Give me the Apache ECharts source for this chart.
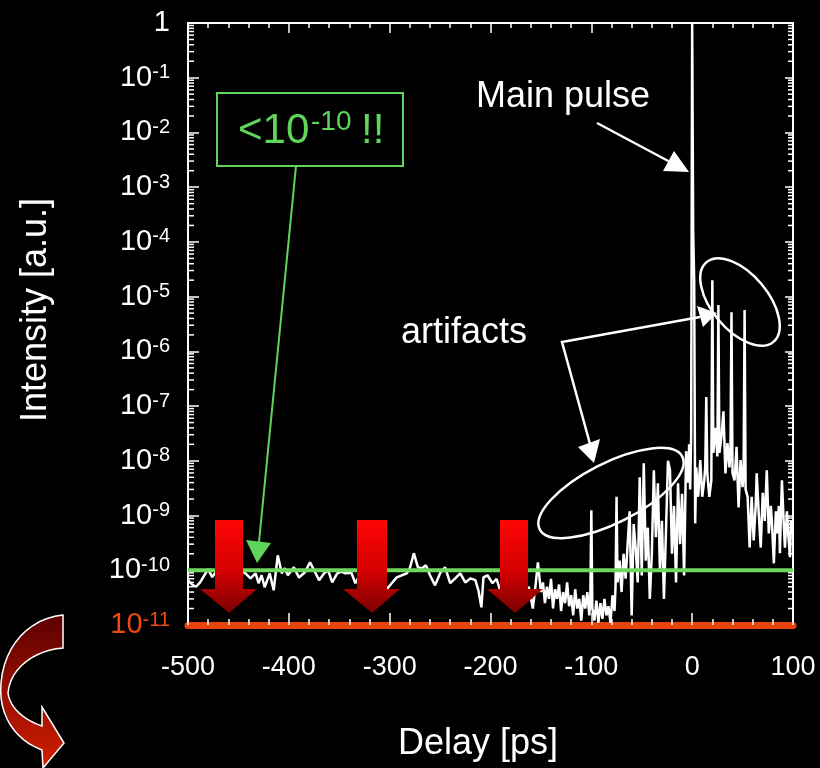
<!DOCTYPE html>
<html lang="en">
<head>
<meta charset="UTF-8">
<title>Pulse contrast</title>
<script src="https://cdn.jsdelivr.net/npm/echarts@6/dist/echarts.min.js"></script>
<style>html,body{margin:0;background:#000;} #chart{width:820px;height:768px;}</style>
</head>
<body>
<div id="chart"></div>
<script>
var FONT = '"Liberation Sans", Arial, sans-serif';

// delay [ps], intensity [a.u.]
var backgroundTrace = [
  [-500, 6.5e-11], [-496, 5.5e-11], [-492, 5.0e-11], [-488, 6e-11], [-484, 8e-11], [-480, 1.05e-10],
  [-476, 7.5e-11], [-472, 9.5e-11], [-468, 6.5e-11], [-464, 1.1e-10], [-460, 8e-11], [-456, 9e-11],
  [-452, 7e-11], [-448, 1e-10], [-443, 8.8e-11], [-438, 7.1e-11], [-433, 8.8e-11], [-430, 5.8e-11],
  [-427, 8.1e-11], [-424, 4.9e-11], [-419, 8.8e-11], [-415, 4.3e-11], [-411, 1.88e-10], [-407, 8.8e-11],
  [-404, 1.09e-10], [-401, 8.1e-11], [-395, 1.13e-10], [-390, 7.4e-11], [-384, 9.2e-11], [-379, 1.4e-10],
  [-375, 1e-10], [-370, 6.6e-11], [-365, 8.8e-11], [-361, 1e-10], [-357, 6e-11], [-352, 8.8e-11],
  [-348, 9.5e-11], [-344, 8.8e-11], [-338, 9e-11], [-334, 5.8e-11], [-330, 8e-11], [-326, 6e-11],
  [-322, 9e-11], [-318, 5e-11], [-314, 7e-11], [-310, 4.5e-11], [-306, 5.5e-11], [-302, 4.7e-11],
  [-298, 5.8e-11], [-293, 7.4e-11], [-288, 8.1e-11], [-283, 8.8e-11], [-280, 1.09e-10], [-276, 2.05e-10],
  [-272, 1.13e-10], [-268, 1.09e-10], [-264, 1.23e-10], [-260, 8.1e-11], [-255, 5.3e-11], [-250, 8.8e-11],
  [-245, 1.13e-10], [-240, 5.8e-11], [-235, 7.1e-11], [-230, 8.8e-11], [-225, 6e-11], [-220, 7.1e-11],
  [-215, 6.6e-11], [-212, 4.3e-11], [-209, 2.1e-11], [-207, 7.4e-11], [-203, 8.1e-11], [-198, 5.8e-11],
  [-194, 7e-11], [-190, 4e-11], [-186, 8e-11], [-182, 3e-11], [-178, 6e-11], [-174, 2.5e-11],
  [-170, 7e-11], [-166, 3e-11], [-162, 5e-11], [-158, 2e-11], [-155, 6e-11], [-153, 1.4e-10]
];

var prePulseTrace = [
  [-150, 4e-11], [-148, 6e-11], [-146, 2.5e-11], [-144, 5e-11], [-142, 3e-11], [-140, 7e-11],
  [-138, 2e-11], [-136, 4.5e-11], [-134, 3e-11], [-132, 5.5e-11], [-130, 1.8e-11], [-128, 4e-11],
  [-126, 2.5e-11], [-124, 6e-11], [-122, 2.2e-11], [-120, 3.5e-11], [-118, 1.5e-11], [-116, 4.5e-11],
  [-114, 2e-11], [-112, 3e-11], [-110, 1.2e-11], [-108, 3.5e-11], [-106, 2e-11], [-104, 4e-11],
  [-102, 1.5e-11], [-101, 3e-11], [-100, 1.25e-9], [-99, 2e-11], [-97, 1.2e-11], [-95, 2.8e-11],
  [-93, 1.1e-11], [-91, 2.5e-11], [-89, 1.3e-11], [-87, 3e-11], [-85, 1.5e-11], [-83, 2.2e-11],
  [-81, 1.1e-11], [-79, 3.5e-11], [-77, 1.8e-11], [-76, 5e-11], [-75, 2.2e-9], [-74, 6e-11],
  [-72, 1.5e-10], [-70, 4e-11], [-68, 2e-10], [-66, 7e-11], [-64, 3e-10], [-62, 1.2e-9],
  [-60, 1.5e-11], [-58, 7e-10], [-56, 2.5e-10], [-54, 6e-11], [-52, 5e-9], [-50, 8e-11],
  [-48, 9e-9], [-46, 1.5e-10], [-44, 6e-10], [-42, 3e-11], [-40, 2e-10], [-38, 6.7e-9],
  [-36, 4e-10], [-34, 3.9e-9], [-32, 1e-10], [-30, 8e-10], [-28, 3e-11], [-26, 5e-10],
  [-24, 1e-8], [-22, 6.7e-9], [-20, 2e-10], [-18, 1.5e-9], [-16, 6e-11], [-14, 3.9e-9],
  [-12, 3e-10], [-10, 2.5e-9], [-8, 8e-11], [-6, 1.5e-8], [-4, 4e-9], [-3, 2e-8],
  [-2, 3e-9], [-1, 3e-8]
];

var postPulseTrace = [
  [0, 1], [1, 1.6e-4], [2, 2e-5], [3, 7.2e-10], [4, 7.6e-9], [6, 2.2e-9], [8, 1.03e-8],
  [10, 2.2e-9], [12, 4.4e-9], [13, 8e-9], [14, 1.46e-7], [15, 6e-9], [17, 2.2e-9], [19, 4.4e-9],
  [20, 2e-5], [21, 1.4e-8], [23, 4e-8], [25, 1.2e-8], [26, 7e-6], [27, 1.4e-8], [29, 2.7e-8],
  [31, 8e-8], [33, 5.9e-9], [35, 2.1e-8], [37, 7.6e-9], [38, 1.5e-8], [39, 5.2e-6], [40, 6e-9],
  [42, 4.4e-9], [44, 1.8e-8], [46, 1.4e-9], [48, 1.03e-8], [50, 3.3e-9], [51, 6e-9], [52, 5.7e-6],
  [53, 3e-9], [55, 2.2e-9], [57, 2.6e-10], [59, 2.2e-9], [61, 3.5e-10], [63, 1.5e-9], [64, 5.9e-9],
  [66, 1.1e-9], [68, 2.6e-10], [70, 2.6e-9], [72, 8e-10], [74, 6.7e-9], [76, 4.7e-10], [78, 1.5e-9],
  [79, 8.2e-10], [81, 1.34e-10], [83, 1.2e-9], [84, 4.7e-10], [86, 1.5e-9], [87, 2.05e-10],
  [89, 4.4e-9], [91, 6e-10], [92, 2.6e-10], [94, 1.2e-9], [95, 5.4e-10], [97, 1.73e-10],
  [98, 8e-10], [100, 4.7e-10]
];

var contrastLevel = 1e-10;
var delayRange = [-500, 100];
var decades = [-11, -10, -9, -8, -7, -6, -5, -4, -3, -2, -1];
var mantissas = [2, 3, 4, 5, 6, 7, 8, 9];

var minorTicks = [];
decades.forEach(function (e) {
  mantissas.forEach(function (m) { minorTicks.push([delayRange[0], m * Math.pow(10, e)]); });
});

var chart = echarts.init(document.getElementById('chart'));

function redArrow(x0, x1, h0, h1, tip) {
  return {
    type: 'polygon', z: 100,
    shape: { points: [[x0, 520], [x1, 520], [x1, 589], [h1, 589], [tip, 613], [h0, 589], [x0, 589]] },
    style: {
      fill: new echarts.graphic.LinearGradient(0, 0, 0, 1, [
        { offset: 0, color: '#ff0606' }, { offset: 0.55, color: '#d40000' }, { offset: 1, color: '#7a0000' }
      ])
    }
  };
}

// sample cubic bezier segments into polygon points
function bez(pts, p0, p1, p2, p3) {
  for (var i = 1; i <= 12; i++) {
    var t = i / 12, u = 1 - t;
    pts.push([
      u * u * u * p0[0] + 3 * u * u * t * p1[0] + 3 * u * t * t * p2[0] + t * t * t * p3[0],
      u * u * u * p0[1] + 3 * u * u * t * p1[1] + 3 * u * t * t * p2[1] + t * t * t * p3[1]
    ]);
  }
}
var curvePts = [[63, 615]];
bez(curvePts, [63, 615], [30, 618], [4, 645], [1, 683]);
bez(curvePts, [1, 683], [-2, 715], [15, 740], [42, 750]);
curvePts.push([43, 768], [64, 743], [42, 707], [42, 726]);
bez(curvePts, [42, 726], [24, 720], [10, 708], [8, 693]);
bez(curvePts, [8, 693], [10, 668], [35, 650], [63, 648]);

var option = {
  backgroundColor: '#000',
  animation: false,
  grid: { left: 188, top: 23, right: 27, bottom: 143 },
  xAxis: [{
    type: 'value', min: delayRange[0], max: delayRange[1], interval: 100, position: 'bottom', z: 5,
    name: 'Delay [ps]', nameLocation: 'middle', nameGap: 101,
    nameTextStyle: { color: '#fff', fontSize: 36, fontFamily: FONT, padding: [0, 25, 0, 0] },
    axisLine: { onZero: false, lineStyle: { color: '#e8430d', width: 7 } },
    axisTick: { inside: true, length: 12, lineStyle: { color: '#fff', width: 1.5 } },
    minorTick: { show: true, splitNumber: 5, length: 6, lineStyle: { color: '#fff', width: 1.5 } },
    axisLabel: { color: '#fff', fontSize: 27, fontFamily: FONT, margin: 29 },
    splitLine: { show: false }
  }, {
    type: 'value', min: delayRange[0], max: delayRange[1], interval: 100, position: 'top',
    axisLine: { onZero: false, lineStyle: { color: '#fff', width: 2 } },
    axisTick: { inside: true, length: 10, lineStyle: { color: '#fff', width: 1.5 } },
    minorTick: { show: true, splitNumber: 5, length: 5, lineStyle: { color: '#fff', width: 1.5 } },
    axisLabel: { show: false },
    splitLine: { show: false }
  }],
  yAxis: [{
    type: 'log', logBase: 10, min: 1e-11, max: 1, interval: 1, position: 'left',
    name: 'Intensity [a.u.]', nameLocation: 'middle', nameGap: 134,
    nameTextStyle: { color: '#fff', fontSize: 36, fontFamily: FONT, padding: [0, 0, 0, 28] },
    axisLine: { onZero: false, lineStyle: { color: '#fff', width: 2 } },
    axisTick: { inside: true, length: 11, lineStyle: { color: '#fff', width: 1.5 } },
    axisLabel: {
      margin: 18,
      formatter: function (v) {
        var e = Math.round(Math.log10(v));
        if (e === 0) return '{b|1}';
        if (e === -11) return '{bo|10}{so|' + e + '}';
        return '{b|10}{s|' + e + '}';
      },
      rich: {
        b: { color: '#fff', fontSize: 29, fontFamily: FONT, lineHeight: 30 },
        s: { color: '#fff', fontSize: 20, fontFamily: FONT, lineHeight: 20, verticalAlign: 'top' },
        bo: { color: '#ee4a12', fontSize: 29, fontFamily: FONT, lineHeight: 30 },
        so: { color: '#ee4a12', fontSize: 20, fontFamily: FONT, lineHeight: 20, verticalAlign: 'top' }
      }
    },
    splitLine: { show: false }
  }, {
    type: 'log', logBase: 10, min: 1e-11, max: 1, interval: 1, position: 'right',
    axisLine: { onZero: false, lineStyle: { color: '#fff', width: 2 } },
    axisTick: { inside: true, length: 8, lineStyle: { color: '#fff', width: 1.5 } },
    axisLabel: { show: false },
    splitLine: { show: false }
  }],
  series: [{
    type: 'custom', silent: true, xAxisIndex: 0, yAxisIndex: 0, z: 4,
    renderItem: function (params, api) {
      var p = api.coord([api.value(0), api.value(1)]);
      var cs = params.coordSys;
      return {
        type: 'group', children: [
          { type: 'line', shape: { x1: cs.x, y1: p[1], x2: cs.x + 6, y2: p[1] }, style: { stroke: '#fff', lineWidth: 1.5 } },
          { type: 'line', shape: { x1: cs.x + cs.width, y1: p[1], x2: cs.x + cs.width - 5, y2: p[1] }, style: { stroke: '#fff', lineWidth: 1.5 } }
        ]
      };
    },
    encode: { x: 0, y: 1 },
    data: minorTicks
  }, {
    type: 'line', xAxisIndex: 0, yAxisIndex: 0, showSymbol: false, silent: true, clip: true, z: 6,
    lineStyle: { color: '#fff', width: 2.5 },
    data: backgroundTrace.concat(prePulseTrace, postPulseTrace)
  }, {
    type: 'line', xAxisIndex: 0, yAxisIndex: 0, showSymbol: false, silent: true, z: 7,
    lineStyle: { color: '#6cd95e', width: 4 },
    data: [[delayRange[0], contrastLevel], [delayRange[1], contrastLevel]]
  }],
  graphic: [
    // green box
    { type: 'rect', z: 100, shape: { x: 217, y: 93, width: 186, height: 73 }, style: { fill: 'none', stroke: '#5fd65a', lineWidth: 2 } },
    { type: 'text', z: 100, x: 238, y: 131, style: { text: '<10', fill: '#5fd65a', fontSize: 42, fontFamily: FONT, verticalAlign: 'middle' } },
    { type: 'text', z: 100, x: 311, y: 122, style: { text: '-10', fill: '#5fd65a', fontSize: 28, fontFamily: FONT, verticalAlign: 'middle' } },
    { type: 'text', z: 100, x: 361, y: 131, style: { text: '!!', fill: '#5fd65a', fontSize: 42, fontFamily: FONT, verticalAlign: 'middle' } },
    { type: 'line', z: 100, shape: { x1: 296, y1: 166, x2: 259, y2: 542 }, style: { stroke: '#5fd65a', lineWidth: 2 } },
    { type: 'polygon', z: 100, shape: { points: [[246, 540], [271, 543], [257, 563]] }, style: { fill: '#5fd65a' } },
    // main pulse
    { type: 'text', z: 100, x: 476, y: 97, style: { text: 'Main pulse', fill: '#fff', fontSize: 36, fontFamily: FONT, verticalAlign: 'middle' } },
    { type: 'line', z: 100, shape: { x1: 597, y1: 123, x2: 672, y2: 163 }, style: { stroke: '#fff', lineWidth: 2.5 } },
    { type: 'polygon', z: 100, shape: { points: [[674, 151], [663, 171], [689, 172]] }, style: { fill: '#fff' } },
    // artifacts
    { type: 'text', z: 100, x: 401, y: 333, style: { text: 'artifacts', fill: '#fff', fontSize: 36, fontFamily: FONT, verticalAlign: 'middle' } },
    { type: 'polyline', z: 100, shape: { points: [[700, 317], [562, 342], [590, 444]] }, style: { stroke: '#fff', lineWidth: 2.5, fill: 'none' } },
    { type: 'polygon', z: 100, shape: { points: [[697, 306], [703, 327], [717, 313]] }, style: { fill: '#fff' } },
    { type: 'polygon', z: 100, shape: { points: [[578, 447], [600, 439], [594, 463]] }, style: { fill: '#fff' } },
    { type: 'ellipse', z: 100, x: 611, y: 493, rotation: 27 * Math.PI / 180, shape: { cx: 0, cy: 0, rx: 80, ry: 30 }, style: { fill: 'none', stroke: '#fff', lineWidth: 2.5 } },
    { type: 'ellipse', z: 100, x: 740, y: 302, rotation: -50 * Math.PI / 180, shape: { cx: 0, cy: 0, rx: 52, ry: 28 }, style: { fill: 'none', stroke: '#fff', lineWidth: 2.5 } },
    // red arrows
    redArrow(215, 243, 200, 257, 229),
    redArrow(357, 387, 343, 400, 372),
    redArrow(500, 528, 487, 543, 515),
    // curved arrow
    {
      type: 'polygon', z: 100,
      shape: { points: curvePts },
      style: {
        fill: new echarts.graphic.LinearGradient(0, 0, 0, 1, [
          { offset: 0, color: '#5a0000' }, { offset: 1, color: '#d41e00' }
        ]),
        stroke: '#fff', lineWidth: 1.5
      }
    }
  ]
};

chart.setOption(option);
</script>
</body>
</html>
